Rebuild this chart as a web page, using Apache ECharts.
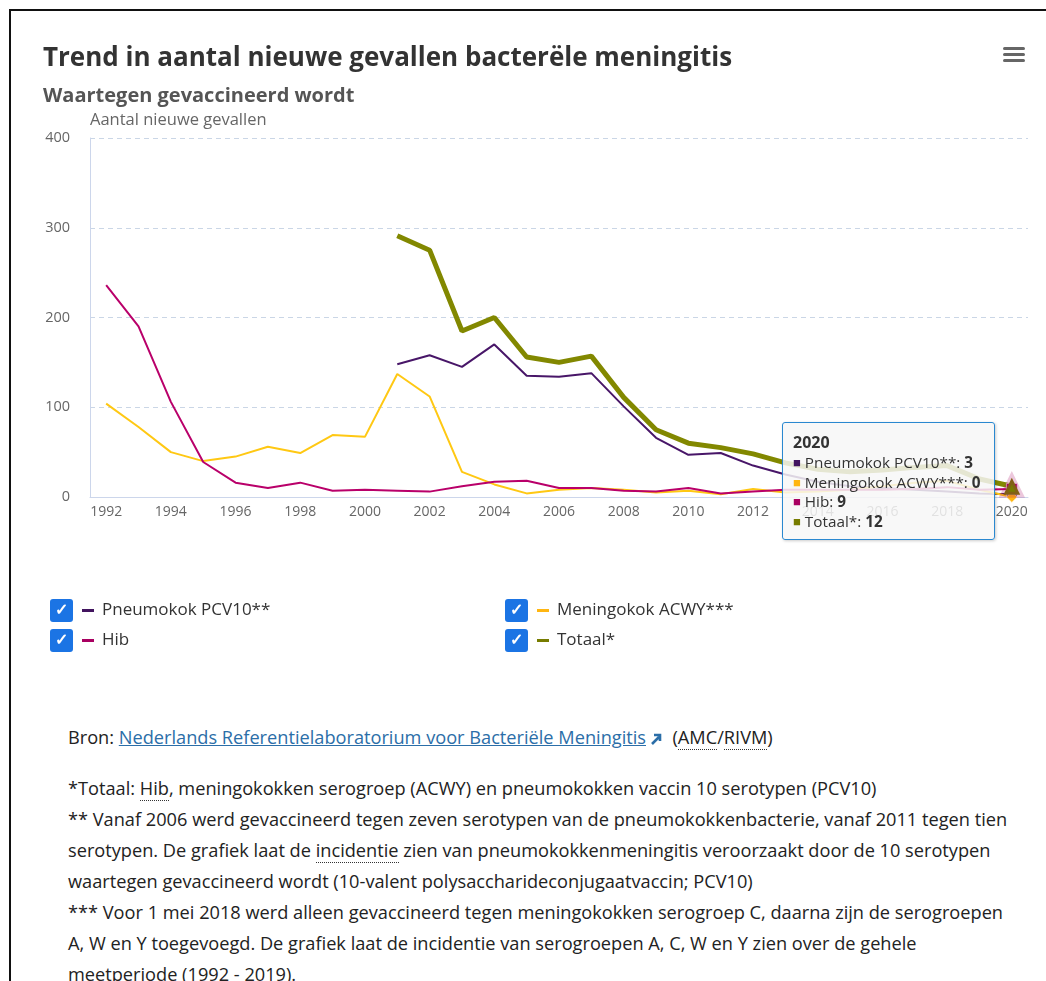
<!DOCTYPE html>
<html lang="nl">
<head>
<meta charset="utf-8">
<title>Trend in aantal nieuwe gevallen bacteriële meningitis</title>
<script src="https://cdn.jsdelivr.net/npm/echarts@6/dist/echarts.min.js"></script>
<style>
  html, body { margin: 0; padding: 0; background: #fff; }
  body { width: 1046px; height: 981px; overflow: hidden; position: relative; font-family: "Open Sans", sans-serif; }
  #frame { position: absolute; left: 9px; top: 9px; width: 1100px; height: 1100px; border-left: 2px solid #111; border-top: 2px solid #111; box-sizing: border-box; pointer-events: none; }
  #chart { position: absolute; left: 0; top: 0; width: 1046px; height: 700px; }
  #notes { position: absolute; left: 68px; top: 722px; color: #222; font-size: 18.2px; line-height: 31px; white-space: nowrap; }
  #notes .src { margin-bottom: 20px; }
  #notes a { color: #2b6ea8; text-decoration: underline; }
  #notes abbr { text-decoration: none; border-bottom: 1px dotted #333; }
  #notes svg { vertical-align: -2px; margin-left: 3px; }
</style>
</head>
<body>
<div id="chart"></div>
<div id="notes">
  <div class="src">Bron: <a href="#">Nederlands Referentielaboratorium voor Bacteriële Meningitis</a><svg width="14" height="14" viewBox="0 0 14 14"><path d="M3 12 L10 5 M5 3 H11 V9" stroke="#2b6ea8" stroke-width="2.6" fill="none"/></svg>&nbsp; (<abbr>AMC</abbr>/<abbr>RIVM</abbr>)</div>
  <div>*Totaal: <abbr>Hib</abbr>, meningokokken serogroep (ACWY) en pneumokokken vaccin 10 serotypen (PCV10)</div>
  <div>** Vanaf 2006 werd gevaccineerd tegen zeven serotypen van de pneumokokkenbacterie, vanaf 2011 tegen tien</div>
  <div>serotypen. De grafiek laat de <abbr>incidentie</abbr> zien van pneumokokkenmeningitis veroorzaakt door de 10 serotypen</div>
  <div>waartegen gevaccineerd wordt (10-valent polysaccharideconjugaatvaccin; PCV10)</div>
  <div>*** Voor 1 mei 2018 werd alleen gevaccineerd tegen meningokokken serogroep C, daarna zijn de serogroepen</div>
  <div>A, W en Y toegevoegd. De grafiek laat de incidentie van serogroepen A, C, W en Y zien over de gehele</div>
  <div>meetperiode (1992 - 2019).</div>
</div>
<div id="frame"></div>
<script>
// Jaren op de x-as
const years = ['1992','1993','1994','1995','1996','1997','1998','1999','2000','2001','2002','2003','2004','2005','2006','2007','2008','2009','2010','2011','2012','2013','2014','2015','2016','2017','2018','2019','2020'];

// Aantal nieuwe gevallen per jaar
const pneumokok = [null,null,null,null,null,null,null,null,null,148,158,145,170,135,134,138,101,66,47,49,35,25,17,12,10,8,6,4,3];
const meningokok = [104,78,50,40,45,56,49,69,67,137,112,28,14,4,8,10,8,5,7,3,9,5,6,8,12,16,18,8,0];
const hib = [236,190,106,39,16,10,16,7,8,7,6,12,17,18,10,10,7,6,10,4,6,8,8,8,8,9,11,8,9];
const totaal = [null,null,null,null,null,null,null,null,null,291,275,185,200,156,150,157,111,75,60,55,48,38,31,28,30,33,35,20,12];

const yTicks = [0, 100, 200, 300, 400];

const FONT = 'Open Sans';

const seriesDefs = [
  { name: 'Pneumokok PCV10**', data: pneumokok, color: '#42145f', width: 2, symbol: 'circle', key: 'c0' },
  { name: 'Meningokok ACWY***', data: meningokok, color: '#ffb612', width: 2, symbol: 'diamond', key: 'c1' },
  { name: 'Hib', data: hib, color: '#a90061', width: 2, symbol: 'rect', key: 'c2' },
  { name: 'Totaal*', data: totaal, color: '#777c00', width: 5, symbol: 'triangle', key: 'c3' }
];

const chart = echarts.init(document.getElementById('chart'), null, { renderer: 'canvas' });

const legendRich = {
  cb: { backgroundColor: '#1b74e4', color: '#fff', width: 23, height: 23, lineHeight: 23, borderRadius: 3, align: 'center', fontSize: 16, fontWeight: 'bold' },
  sp: { width: 9 },
  sp2: { width: 8 },
  t: { fontSize: 17, color: '#333', fontFamily: FONT }
};
seriesDefs.forEach(s => { legendRich[s.key] = { width: 12, height: 3, backgroundColor: s.color }; });

function legendFormatter(name) {
  const s = seriesDefs.find(d => d.name === name);
  return '{cb|✓}{sp|}{' + s.key + '|}{sp2|}{t|' + name + '}';
}

const legendCommon = {
  orient: 'vertical',
  icon: 'rect',
  itemWidth: 0,
  itemHeight: 0,
  itemGap: 7,
  padding: 0,
  selectedMode: false,
  formatter: legendFormatter,
  textStyle: { rich: legendRich, padding: 0 }
};

chart.setOption({
  animation: false,
  textStyle: { fontFamily: FONT },
  title: [
    { text: 'Trend in aantal nieuwe gevallen bacterële meningitis', left: 38, top: 41,
      textStyle: { fontSize: 26, fontWeight: 'bold', color: '#333', fontFamily: FONT } },
    { text: 'Waartegen gevaccineerd wordt', left: 38, top: 81,
      textStyle: { fontSize: 20, fontWeight: 'bold', color: '#555', fontFamily: FONT } }
  ],
  graphic: [
    { type: 'group', right: 21, top: 47, children: [
      { type: 'rect', shape: { x: 0, y: 0, width: 22, height: 3, r: 1.5 }, style: { fill: '#666' } },
      { type: 'rect', shape: { x: 0, y: 6, width: 22, height: 3, r: 1.5 }, style: { fill: '#666' } },
      { type: 'rect', shape: { x: 0, y: 12, width: 22, height: 3, r: 1.5 }, style: { fill: '#666' } }
    ]}
  ],
  legend: [
    Object.assign({ left: 45, top: 599, data: ['Pneumokok PCV10**', 'Hib'] }, legendCommon),
    Object.assign({ left: 500, top: 599, data: ['Meningokok ACWY***', 'Totaal*'] }, legendCommon)
  ],
  grid: { left: 90, right: 18, top: 138, bottom: 203 },
  tooltip: {
    trigger: 'axis',
    alwaysShowContent: true,
    transitionDuration: 0,
    axisPointer: { type: 'none' },
    backgroundColor: 'rgba(247,247,247,0.85)',
    borderColor: '#2a88d0',
    borderWidth: 1.5,
    padding: [8, 13, 8, 10],
    textStyle: { fontSize: 15, color: '#333', fontFamily: FONT },
    extraCssText: 'border-radius:3px; box-shadow:1px 1px 3px rgba(0,0,0,0.2);',
    position: function (pt, params, dom, rect, size) {
      return [pt[0] - size.contentSize[0] - 17, pt[1] - 64];
    },
    formatter: function (params) {
      let html = '<div style="font-weight:bold;font-size:16px;line-height:22px">' + params[0].axisValue + '</div>';
      params.forEach(p => {
        html += '<div style="line-height:19.5px;font-size:15.3px"><span style="color:' + p.color + ';font-size:13px;vertical-align:1px">■</span> ' +
          p.seriesName + ': <b>' + p.value + '</b></div>';
      });
      return html;
    }
  },
  xAxis: {
    type: 'category',
    data: years,
    boundaryGap: true,
    axisLine: { lineStyle: { color: '#ccd6eb', width: 1 } },
    axisTick: { alignWithLabel: true, interval: 1, length: 6, lineStyle: { color: '#ccd6eb' } },
    axisLabel: { interval: 1, color: '#666', fontSize: 14, margin: 8, fontFamily: FONT },
    splitLine: { show: false }
  },
  yAxis: {
    type: 'value',
    min: yTicks[0],
    max: yTicks[yTicks.length - 1],
    interval: 100,
    name: 'Aantal nieuwe gevallen',
    nameLocation: 'end',
    nameGap: 9,
    nameTextStyle: { align: 'left', color: '#666', fontSize: 16.5, fontFamily: FONT },
    axisLine: { show: true, lineStyle: { color: '#ccd6eb', width: 1 } },
    axisTick: { show: false },
    axisLabel: { color: '#666', fontSize: 14.5, margin: 20, fontFamily: FONT },
    splitLine: { lineStyle: { color: '#cad6e6', type: [5, 4], width: 1 } }
  },
  series: seriesDefs.map(s => ({
    name: s.name,
    type: 'line',
    data: s.data,
    showSymbol: false,
    symbol: s.symbol,
    symbolSize: s.symbol === 'triangle' ? 14 : 9,
    connectNulls: false,
    color: s.color,
    lineStyle: { color: s.color, width: s.width },
    itemStyle: { color: s.color },
    emphasis: {
      scale: 1.2,
      lineStyle: { width: s.width },
      itemStyle: { borderColor: s.symbol === 'triangle' ? 'rgba(169,0,97,0.22)' : 'rgba(255,255,255,0.6)', borderWidth: s.symbol === 'triangle' ? 6 : 1 }
    }
  }))
});

chart.dispatchAction({ type: 'showTip', seriesIndex: 3, dataIndex: years.length - 1 });
</script>
</body>
</html>
